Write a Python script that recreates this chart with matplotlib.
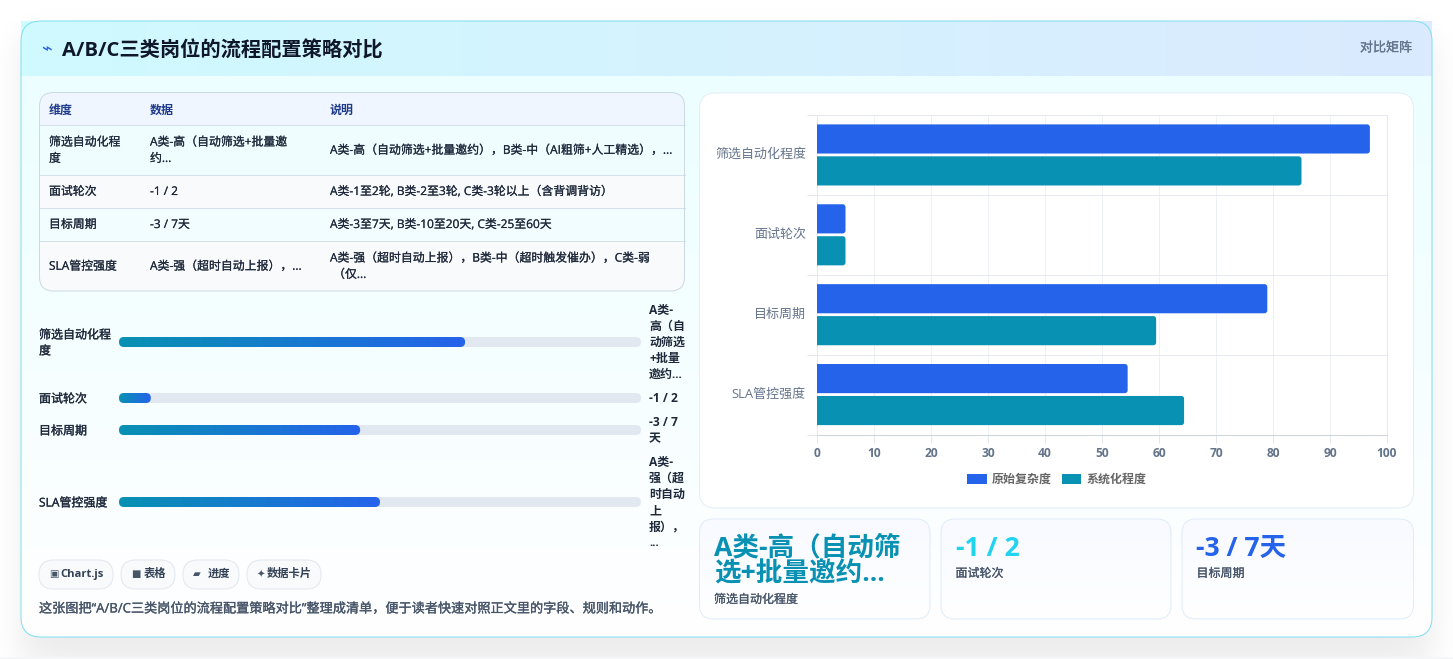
import numpy as np
import matplotlib
matplotlib.use('Agg')
import matplotlib.pyplot as plt
import matplotlib.patheffects as pe
from matplotlib.patches import FancyBboxPatch, Rectangle, Patch
from matplotlib.colors import LinearSegmentedColormap
from matplotlib.transforms import ScaledTranslation

W, H = 1453, 659
FONT = ['Open Sans', 'Noto Sans CJK SC', 'DejaVu Sans']
plt.rcParams['font.family'] = FONT

# ------------------------------------------------------------------
# Data
# ------------------------------------------------------------------
title = 'A/B/C三类岗位的流程配置策略对比'
badge = '对比矩阵'
caption = '这张图把“A/B/C三类岗位的流程配置策略对比”整理成清单，便于读者快速对照正文里的字段、规则和动作。'

table_head = ['维度', '数据', '说明']
table_dims = [['筛选自动化程', '度'], ['面试轮次'], ['目标周期'], ['SLA管控强度']]
table_data = [['A类-高（自动筛选+批量邀', '约...'], ['-1 / 2'], ['-3 / 7天'], ['A类-强（超时自动上报），...']]
table_note = [['A类-高（自动筛选+批量邀约），B类-中（AI粗筛+人工精选），...'],
              ['A类-1至2轮, B类-2至3轮, C类-3轮以上（含背调背访）'],
              ['A类-3至7天, B类-10至20天, C类-25至60天'],
              ['A类-强（超时自动上报），B类-中（超时触发催办），C类-弱', ' （仅...']]

progress_pct = [66.3, 6.1, 46.2, 50]
progress_tail = [['A类-', '高（自', '动筛选', '+批量', '邀约...'],
                 ['-1 / 2'],
                 ['-3 / 7', '天'],
                 ['A类-', '强（超', '时自动', '上', '报），', '...']]

chips = ['Chart.js', '表格', '进度', '数据卡片']
chip_icons = ['▣', '■', '▰', '✦']

categories = ['筛选自动化程度', '面试轮次', '目标周期', 'SLA管控强度']
raw_complexity = [97, 5, 79, 54.5]
systematized = [85, 5, 59.5, 64.4]
series_names = ['原始复杂度', '系统化程度']

stat_values = [['A类-高（自动筛', '选+批量邀约...'], ['-1 / 2'], ['-3 / 7天']]
stat_labels = ['筛选自动化程度', '面试轮次', '目标周期']
stat_colors = ['#0891b2', '#22d3ee', '#2563eb']

fig = plt.figure(figsize=(W / 100, H / 100), dpi=100, facecolor='white')
bg = fig.add_axes([0, 0, 1, 1])
bg.set_axis_off()

LINE = 0.72  # one pixel in points


def px(size):
    return size * 0.72


def rbox(x0, y0, x1, y1, r, fc='none', ec='none', lw=LINE, z=2, alpha=None):
    p = FancyBboxPatch((x0 + r, y0 + r), x1 - x0 - 2 * r, y1 - y0 - 2 * r,
                       boxstyle=f'round,pad={r},rounding_size={r}',
                       fc=fc, ec=ec, lw=lw, zorder=z, alpha=alpha)
    bg.add_patch(p)
    return p


def gradient(x0, y0, x1, y1, c0, c1, horizontal=True, clip=None, z=2):
    cmap = LinearSegmentedColormap.from_list('g', [c0, c1])
    ramp = np.linspace(0, 1, 256)
    ramp = ramp[None, :] if horizontal else ramp[:, None]
    im = bg.imshow(ramp, extent=(x0, x1, y1, y0), cmap=cmap, aspect='auto',
                   zorder=z, interpolation='bilinear')
    if clip is not None:
        im.set_clip_path(clip)
    return im


def label(x, y, s, size, color, weight='normal', ha='left', z=6, family=None, stroke=0.0):
    t = bg.text(x, y + 1, s, fontsize=px(size), color=color, weight=weight, ha=ha, va='center',
                zorder=z, family=family or FONT)
    if stroke:
        # thicken regular glyphs to a medium weight
        t.set_path_effects([pe.withStroke(linewidth=stroke, foreground=color)])
    return t


# blurred drop shadow, offset downwards
xx, yy = np.meshgrid(np.arange(W) + 0.5, np.arange(H) + 0.5)
soft = lambda d: 1 / (1 + np.exp(-d / 10))
shadow = np.zeros((H, W, 4))
shadow[..., 3] = 0.08 * soft(xx - 21) * soft(1432 - xx) * soft(yy - 37) * soft(665 - yy)
bg.imshow(shadow, extent=(0, W, H, 0), aspect='auto', zorder=1, interpolation='nearest')
bg.add_patch(Rectangle((0, 657), W, 2, fc='#f4f6fa', ec='none', zorder=1.5))

# main card and header band
card = rbox(21, 21, 1432, 637, 20, fc='white', z=2)
gradient(21, 76, 1432, 637, '#ecfeff', '#ffffff', horizontal=False, clip=card, z=2)
gradient(21, 21, 1432, 76, '#cffafe', '#dbeafe', z=3)
rbox(21, 21, 1432, 637, 20, ec='#80e0ef', z=3.5)

label(41, 49, '⌁', 18, '#2563eb', family=['DejaVu Sans'])
label(62, 50, title, 20.3, '#0f172a', weight='bold')
label(1412, 47, badge, 13, '#64748b', ha='right', stroke=0.2)

# ------------------------------------------------------------------
# Table
# ------------------------------------------------------------------
tbl = rbox(39.5, 92.5, 684.5, 291, 14, fc='none', z=3)
row_edges = [92.5, 125, 174.5, 207.5, 240.5, 291]
row_fills = ['#eff6ff', '#f0fdff', '#f8fafc', '#f2fdff', '#f8fafc']
for i, fill in enumerate(row_fills):
    r = Rectangle((39.5, row_edges[i]), 645, row_edges[i + 1] - row_edges[i], fc=fill, ec='none', zorder=3)
    bg.add_patch(r)
    r.set_clip_path(tbl)
for y in row_edges[1:-1]:
    bg.plot([39.5, 684.5], [y, y], color='#d5e1ea', lw=LINE, zorder=4)
rbox(39.5, 92.5, 684.5, 291, 14, ec='#cbd9e4', z=4)

col_x = [49, 150, 330]
for x, s in zip(col_x, table_head):
    label(x, 109, s, 12, '#1e3a8a', weight='bold')
for i, rows in enumerate(zip(table_dims, table_data, table_note)):
    mid = (row_edges[i + 1] + row_edges[i + 2]) / 2
    for x, lines in zip(col_x, rows):
        for j, s in enumerate(lines):
            label(x, mid - 0.5 + (j - (len(lines) - 1) / 2) * 16.3, s, 11.9, '#1e293b', stroke=0.12)

# ------------------------------------------------------------------
# Progress rows
# ------------------------------------------------------------------
bar_y = [342, 398, 430, 502]
for y, pct, head, tail in zip(bar_y, progress_pct, table_dims, progress_tail):
    rbox(119, y - 5, 641, y + 5, 5, fc='#e2e8f0', z=3)
    x1 = 119 + 522 * pct / 100
    fill = rbox(119, y - 5, x1, y + 5, 5, fc='none', z=3)
    gradient(119, y - 5, x1, y + 5, '#0891b2', '#2563eb', clip=fill, z=4)
    for j, s in enumerate(head):
        label(39, y + (j - (len(head) - 1) / 2) * 16, s, 12, '#1e293b', stroke=0.2)
    for j, s in enumerate(tail):
        label(649, y - 0.5 + (j - (len(tail) - 1) / 2) * 16.1, s, 12, '#1e293b', weight='bold')

# ------------------------------------------------------------------
# Chips and caption
# ------------------------------------------------------------------
chip_x = [(39, 113), (121, 175), (183, 239), (247, 321)]
for (x0, x1), icon, s in zip(chip_x, chip_icons, chips):
    rbox(x0, 560, x1, 589, 14.5, fc='#f8fafc', ec='#e2e8f0', z=3)
    label(x0 + 10, 573.5, icon, 10, '#475569', family=['DejaVu Sans'])
    label(x1 - 9, 573.5, s, 11.3, '#334155', weight='bold', ha='right')
label(39, 608, caption, 13.15, '#475569', stroke=0.2)

# ------------------------------------------------------------------
# Chart panel and stat cards
# ------------------------------------------------------------------
rbox(699.5, 93, 1413.5, 508, 16, fc='white', ec='#e2eef5', z=3)

stat_x = [(699.5, 930), (941, 1171), (1182, 1413.5)]
for (x0, x1), lines, lab, col in zip(stat_x, stat_values, stat_labels, stat_colors):
    box = rbox(x0, 519, x1, 619, 14, fc='none', z=3)
    gradient(x0, 519, x1, 619, '#f8faff', '#ffffff', horizontal=False, clip=box, z=3)
    rbox(x0, 519, x1, 619, 14, ec='#e0ecf8', z=4)
    for j, s in enumerate(lines):
        label(x0 + 14.5, 547.5 + j * 26, s, 26.6, col, weight='bold')
    label(x0 + 14.5, 546.5 + (len(lines) - 1) * 26 + 26, lab, 12, '#475569', stroke=0.15)

bg.set_xlim(0, W)
bg.set_ylim(H, 0)

# ------------------------------------------------------------------
# Grouped horizontal bars
# ------------------------------------------------------------------
ax = fig.add_axes([817 / W, 1 - 434.5 / H, 570 / W, 319.5 / H], zorder=5)
ax.patch.set_alpha(0)
y = np.arange(len(categories))
blue = ax.barh(y - 0.2, raw_complexity, height=0.365)
teal = ax.barh(y + 0.2, systematized, height=0.365)

ax.set_xlim(0, 100)
ax.set_ylim(len(categories) - 0.5, -0.5)

# swap the plain bars for rounded ones, square on the baseline side
aspect = (1 / 79.75) / (1 / 5.7)
for bars, color in [(blue, '#2563eb'), (teal, '#0891b2')]:
    for b in bars:
        b.set_visible(False)
        ax.add_patch(FancyBboxPatch((-1, b.get_y()), b.get_width() + 1, b.get_height(),
                                    boxstyle='round,pad=0,rounding_size=0.5', mutation_aspect=aspect,
                                    fc=color, ec='none', zorder=3))

ax.set_xticks(range(0, 101, 10))
ax.set_yticks(y)
ax.set_yticklabels(categories)
ax.set_yticks(np.arange(-0.5, len(categories)), minor=True)
ax.tick_params(axis='y', which='major', length=0, pad=8, labelsize=px(13), labelcolor='#64748b')
ax.tick_params(axis='y', which='minor', length=7.2, width=LINE, color='#e2e6ee')
ax.tick_params(axis='x', length=5.5, width=LINE, color='#e2e6ee', pad=3.5, labelsize=px(12), labelcolor='#64748b')
for t in ax.get_xticklabels():
    t.set_fontweight('bold')
for t in ax.get_yticklabels():
    t.set_transform(t.get_transform() + ScaledTranslation(0, 1.5 / 72, fig.dpi_scale_trans))
ax.grid(axis='x', color='#edf0f5', lw=LINE, zorder=0)
ax.grid(axis='y', which='minor', color='#e5e8ef', lw=LINE, zorder=0)
ax.set_axisbelow(True)
for side, sp in ax.spines.items():
    sp.set_color('#e5e8ef')
    sp.set_linewidth(LINE)
ax.spines['bottom'].set_color('#cfd3dc')

handles = [Patch(fc='#2563eb', label=series_names[0]), Patch(fc='#0891b2', label=series_names[1])]
ax.legend(handles=handles, loc='center', bbox_to_anchor=(0.421, -0.141), ncols=2, frameon=False,
          labelcolor='#666666', handlelength=1.62, handleheight=1.0, handletextpad=0.45,
          columnspacing=0.8, prop={'weight': 'bold', 'size': px(12), 'family': FONT})

fig.savefig('out.png', dpi=100, facecolor='white')
